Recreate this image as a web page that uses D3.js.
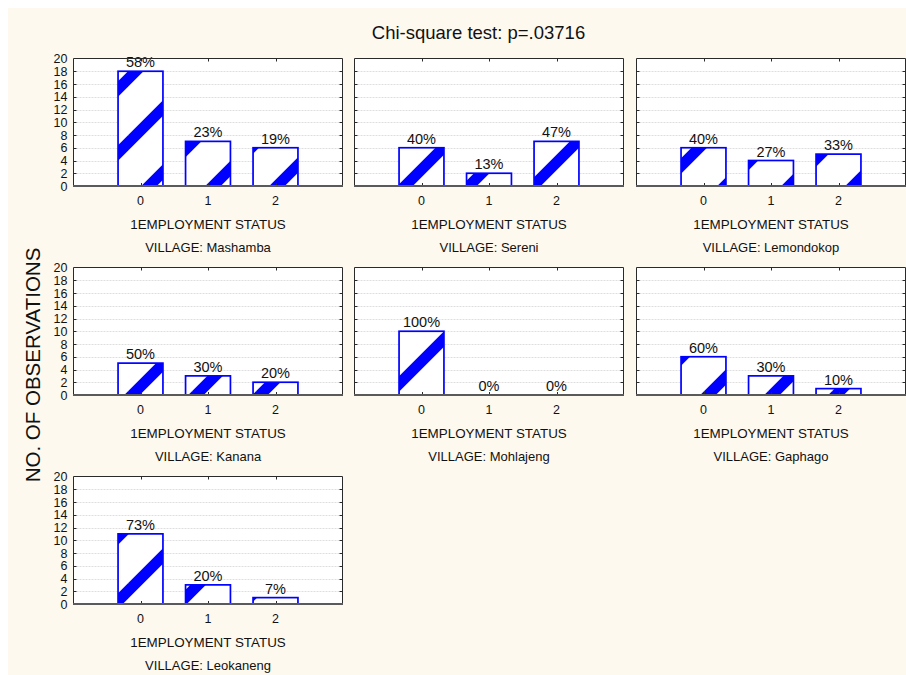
<!DOCTYPE html>
<html>
<head>
<meta charset="utf-8">
<script src="https://cdn.jsdelivr.net/npm/d3@7"></script>
<style>
  html, body { margin: 0; padding: 0; background: #ffffff; }
  svg { display: block; }
  text { font-family: "Liberation Sans", Arial, sans-serif; fill: #111; }
</style>
</head>
<body>
<svg id="chart" width="906" height="675"></svg>
<script>
// ---- data ----
const villages = ["Mashamba", "Sereni", "Lemondokop", "Kanana", "Mohlajeng", "Gaphago", "Leokaneng"];
const categories = [0, 1, 2];
const counts = [
  [18, 7, 6],
  [6, 2, 7],
  [6, 4, 5],
  [5, 3, 2],
  [10, 0, 0],
  [6, 3, 1],
  [11, 3, 1]
];
const percentLabels = [
  ["58%", "23%", "19%"],
  ["40%", "13%", "47%"],
  ["40%", "27%", "33%"],
  ["50%", "30%", "20%"],
  ["100%", "0%", "0%"],
  ["60%", "30%", "10%"],
  ["73%", "20%", "7%"]
];
const yTicks = [0, 2, 4, 6, 8, 10, 12, 14, 16, 18, 20];
const titleText = "Chi-square test: p=.03716";
const yAxisTitle = "NO. OF OBSERVATIONS";
const xAxisTitle = "1EMPLOYMENT STATUS";

// ---- layout ----
const svg = d3.select("#chart");
const W = 906, H = 675;
const colLefts = [73.5, 354.5, 636.5];
const rowTops = [58.5, 267.5, 476.5];
const panelW = 269, panelH = 127.5;

svg.append("rect").attr("x", 0).attr("y", 0).attr("width", W).attr("height", H).attr("fill", "#ffffff");
svg.append("rect").attr("x", 8).attr("y", 8).attr("width", W - 8).attr("height", H - 8).attr("fill", "#fdf9ef");

// hatch pattern anchored to page coordinates
const defs = svg.append("defs");
const pat = defs.append("pattern")
  .attr("id", "hatch").attr("patternUnits", "userSpaceOnUse")
  .attr("x", 0).attr("y", 0).attr("width", 64).attr("height", 64);
pat.append("rect").attr("width", 64).attr("height", 64).attr("fill", "#ffffff");
[15 - 64, 15, 15 + 64, 15 + 128].forEach(c => {
  pat.append("line")
    .attr("x1", c + 30).attr("y1", -30).attr("x2", -30).attr("y2", c + 30)
    .attr("stroke", "#0000ff").attr("stroke-width", 11);
});

// title
svg.append("text").attr("x", 478.5).attr("y", 38.5).attr("text-anchor", "middle")
  .style("font-size", "18.5px").text(titleText);

// y axis title
svg.append("text").attr("transform", "translate(40,365) rotate(-90)")
  .attr("text-anchor", "middle").style("font-size", "20.5px").text(yAxisTitle);

villages.forEach((v, i) => {
  const col = i % 3, row = Math.floor(i / 3);
  const L = colLefts[col], T = rowTops[row];
  const R = L + panelW, B = T + panelH;
  const x = d3.scaleLinear().domain([-1, 3]).range([L - 0.5, R + 0.5]);
  const y = d3.scaleLinear().domain([0, 20]).range([B, T]);
  const bw = (x(1) - x(0)) * 0.665;
  const g = svg.append("g");

  // plot background
  g.append("rect").attr("x", L).attr("y", T).attr("width", panelW).attr("height", B - T).attr("fill", "#ffffff");

  // gridlines
  g.selectAll(".grid").data(yTicks.filter(t => t > 0 && t < 20)).join("line")
    .attr("x1", L).attr("x2", R)
    .attr("y1", d => Math.round(y(d)) + 0.5).attr("y2", d => Math.round(y(d)) + 0.5)
    .attr("stroke", "#dedede").attr("stroke-width", 1).attr("stroke-dasharray", "2,1");

  // bars
  const data = categories.map((c, j) => ({ c, v: counts[i][j], lab: percentLabels[i][j] }));
  g.selectAll(".bar").data(data.filter(d => d.v > 0)).join("rect")
    .attr("x", d => x(d.c) - bw / 2).attr("width", bw)
    .attr("y", d => y(d.v)).attr("height", d => y(0) - y(d.v))
    .attr("fill", "url(#hatch)").attr("stroke", "#0000ff").attr("stroke-width", 1.7);

  // percent labels
  g.selectAll(".pct").data(data).join("text")
    .attr("x", d => x(d.c)).attr("y", d => y(d.v) - 4)
    .attr("text-anchor", "middle").style("font-size", "14.5px").text(d => d.lab);

  // frame (top, left, right)
  g.append("path").attr("d", `M${L},${B}V${T}H${R}V${B}`)
    .attr("fill", "none").attr("stroke", "#2a2a2a").attr("stroke-width", 1);

  // y ticks (inward) on left and right
  g.selectAll(".ytl").data(yTicks.filter(t => t > 0 && t < 20)).join("line")
    .attr("x1", L).attr("x2", L + 3)
    .attr("y1", d => Math.round(y(d)) + 0.5).attr("y2", d => Math.round(y(d)) + 0.5)
    .attr("stroke", "#2a2a2a");
  g.selectAll(".ytr").data(yTicks.filter(t => t > 0 && t < 20)).join("line")
    .attr("x1", R - 3).attr("x2", R)
    .attr("y1", d => Math.round(y(d)) + 0.5).attr("y2", d => Math.round(y(d)) + 0.5)
    .attr("stroke", "#2a2a2a");
  // x ticks (inward) top and bottom
  g.selectAll(".xtt").data(categories).join("line")
    .attr("x1", d => Math.round(x(d)) + 0.5).attr("x2", d => Math.round(x(d)) + 0.5)
    .attr("y1", T).attr("y2", T + 3).attr("stroke", "#2a2a2a");
  g.selectAll(".xtb").data(categories).join("line")
    .attr("x1", d => Math.round(x(d)) + 0.5).attr("x2", d => Math.round(x(d)) + 0.5)
    .attr("y1", B - 3).attr("y2", B).attr("stroke", "#2a2a2a");

  // bottom axis line
  g.append("line").attr("x1", L - 0.5).attr("x2", R + 0.5).attr("y1", B).attr("y2", B)
    .attr("stroke", "#5a5a5a").attr("stroke-width", 2);

  // y tick labels (first column only)
  if (col === 0) {
    g.selectAll(".ylab").data(yTicks).join("text")
      .attr("x", L - 6).attr("y", d => y(d) + 4.5)
      .attr("text-anchor", "end").style("font-size", "12.5px").text(d => d);
  }

  // x tick labels
  g.selectAll(".xlab").data(categories).join("text")
    .attr("x", d => x(d)).attr("y", B + 19)
    .attr("text-anchor", "middle").style("font-size", "12.5px").text(d => d);

  const cx = (L + R) / 2;
  g.append("text").attr("x", cx).attr("y", B + 43).attr("text-anchor", "middle")
    .style("font-size", "13.4px").text(xAxisTitle);
  g.append("text").attr("x", cx).attr("y", B + 66).attr("text-anchor", "middle")
    .style("font-size", "13px").text("VILLAGE: " + v);
});
</script>
</body>
</html>
